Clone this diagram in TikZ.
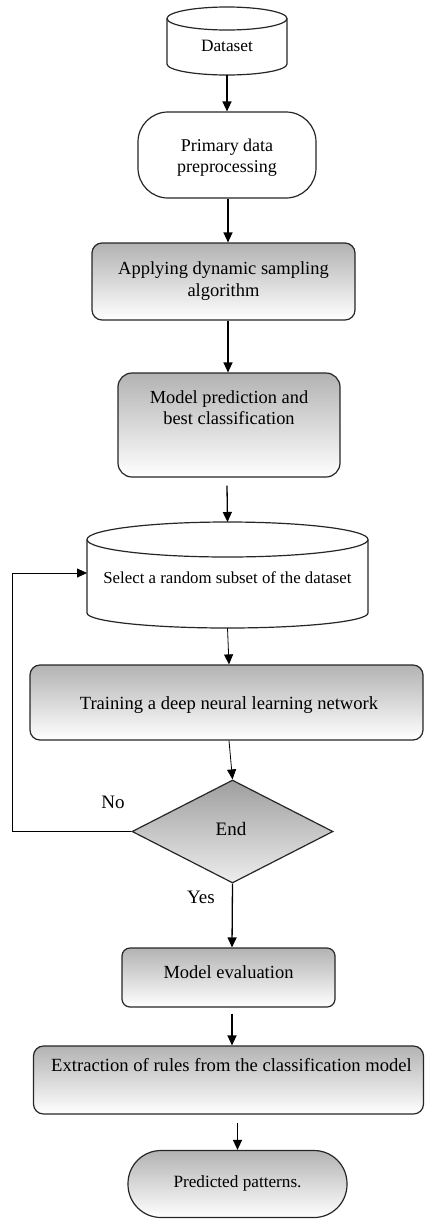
\documentclass[tikz,border=0pt]{standalone}
\usepackage{fontspec}
\setmainfont{Liberation Serif}
\usetikzlibrary{arrows.meta,shapes.geometric}
\tikzset{
  outline/.style={draw=black!85, line width=1.2pt},
  plainbox/.style={outline, fill=white, rectangle, inner sep=0pt},
  gbox/.style={outline, rectangle, inner sep=0pt, top color=black!30, bottom color=white},
  gdiam/.style={outline, diamond, inner sep=0pt, aspect=2, top color=black!38, bottom color=black!7},
  lbl/.style={align=center, inner sep=0pt},
  arr/.style={line width=1.3pt, -{Triangle[length=10pt,width=9pt]}},
  tarr/.style={line width=0.8pt, -{Triangle[length=10pt,width=9pt]}},
}
\newcommand{\fs}[1]{\fontsize{#1}{21}\selectfont}
\begin{document}
\begin{tikzpicture}[x=1pt,y=1pt]
\useasboundingbox (0,0) rectangle (425,-1219);

% Dataset cylinder
\draw[outline, fill=white] (167,-18.5) -- (167,-64) arc[start angle=180,end angle=360,x radius=60,y radius=11]
   -- (287,-18.5) arc[start angle=0,end angle=180,x radius=60,y radius=11.5] -- cycle;
\draw[outline] (167,-18.5) arc[start angle=180,end angle=360,x radius=60,y radius=11.5];
\coordinate (dsbot) at (227,-75);
\node[lbl, font=\fs{17.3}] (dstxt) at (227,-46) {Dataset};

% Primary
\node[plainbox, rounded corners=30pt, minimum width=178pt, minimum height=86pt] (prim) at (227,-155) {};
\node[lbl, font=\fontsize{18}{21}\selectfont] (primtxt) at (227,-157.5) {Primary data\\preprocessing};

% Applying
\node[gbox, rounded corners=10pt, minimum width=263pt, minimum height=77pt] (apply) at (223.5,-281.5) {};
\node[lbl, font=\fontsize{18.5}{22}\selectfont] (applytxt) at (223.5,-281) {Applying dynamic sampling\\algorithm};

% Model prediction
\node[gbox, rounded corners=14pt, minimum width=222pt, minimum height=104pt] (mp) at (229,-425) {};
\node[lbl, font=\fontsize{18.4}{21}\selectfont] (mptxt) at (229,-407.5) {Model prediction and\\best classification};

% Select cylinder
\draw[outline, fill=white] (87,-539.5) -- (87,-613) arc[start angle=180,end angle=360,x radius=140.5,y radius=15]
   -- (368,-539.5) arc[start angle=0,end angle=180,x radius=140.5,y radius=17.5] -- cycle;
\draw[outline] (87,-539.5) arc[start angle=180,end angle=360,x radius=140.5,y radius=17.5];
\coordinate (c2top) at (227.5,-522);
\coordinate (c2bot) at (227.5,-628);
\coordinate (c2left) at (87,-573);
\node[lbl, font=\fs{16.8}] (c2txt) at (227.5,-578) {Select a random subset of the dataset};

% Training
\node[gbox, rounded corners=10pt, minimum width=393pt, minimum height=75pt] (train) at (226.5,-702.5) {};
\node[lbl, font=\fs{18.6}] (traintxt) at (229,-705) {Training a deep neural learning network};

% Diamond
\node[gdiam, minimum width=201pt, minimum height=103pt] (dec) at (232.5,-831.5) {};
\node[lbl, font=\fs{19}] (dectxt) at (231,-829) {End};
\node[lbl, font=\fs{19}] (notxt) at (113,-802) {No};
\node[lbl, font=\fs{19}] (yestxt) at (201,-897) {Yes};

% Model evaluation
\node[gbox, rounded corners=8pt, minimum width=213pt, minimum height=59pt] (me) at (228.5,-977.5) {};
\node[lbl, font=\fs{18.5}] (metxt) at (228.5,-972) {Model evaluation};

% Extraction
\node[gbox, rounded corners=10pt, minimum width=390pt, minimum height=68pt] (ext) at (228.5,-1080) {};
\node[lbl, font=\fs{18.6}] (exttxt) at (231.5,-1065) {Extraction of rules from the classification model};

% Predicted
\node[gbox, rounded corners=33pt, minimum width=219pt, minimum height=67pt] (pred) at (237.5,-1184) {};
\node[lbl, font=\fs{17.2}] (predtxt) at (237.5,-1183) {Predicted patterns.};

% connectors
\draw[arr] (dsbot) -- (prim.north);
\draw[arr] ([xshift=1pt]prim.south) -- ([xshift=4.5pt]apply.north);
\draw[arr] ([xshift=4.5pt]apply.south) -- ([xshift=-1pt]mp.north);
\draw[arr] ([xshift=-2pt,yshift=-8pt]mp.south) -- (c2top);
\draw[tarr] (c2bot) -- ([xshift=2.5pt]train.north);
\draw[tarr] ([xshift=2.5pt]train.south) -- (dec.north);
\draw[arr] (dec.south) -- ([xshift=3.5pt]me.north);
\draw[arr] ([xshift=3.5pt,yshift=-6pt]me.south) -- ([xshift=3.5pt]ext.north);
\draw[arr] ([xshift=9pt,yshift=-8pt]ext.south) -- (pred.north);
\draw[tarr] (dec.west) -- (12,-831.5) |- (c2left);
\end{tikzpicture}
\end{document}
